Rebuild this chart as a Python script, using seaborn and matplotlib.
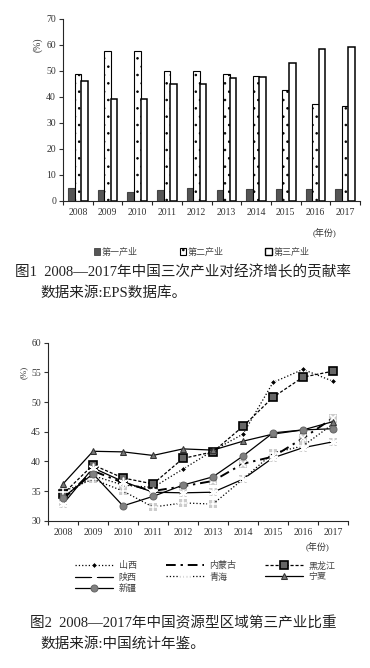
import matplotlib.pyplot as plt
import seaborn as sns
import pandas as pd
from matplotlib.patches import Patch

sns.set_theme(style="ticks")
plt.rcParams['font.family'] = ['Liberation Serif', 'Noto Sans CJK SC']
plt.rcParams['hatch.linewidth'] = 0.6
plt.rcParams['axes.linewidth'] = 0.8

years = [str(y) for y in range(2008, 2018)]

# Fig 1: contribution of the three industries to growth (%)
industries = ['第一产业', '第二产业', '第三产业']
primary = [5.1, 4.1, 3.6, 4.4, 5.1, 4.4, 4.7, 4.7, 4.5, 4.8]
secondary = [48.8, 57.7, 57.7, 50.0, 50.0, 48.8, 48.1, 42.6, 37.5, 36.5]
tertiary = [46.3, 39.1, 39.1, 45.0, 45.0, 47.3, 47.7, 53.1, 58.5, 59.2]

# Fig 2: tertiary industry share in resource-based regions (%)
regions = ['山西', '内蒙古', '黑龙江', '陕西', '青海', '宁夏', '新疆']
shanxi = [34.0, 37.6, 36.0, 35.6, 38.7, 41.8, 44.6, 53.3, 55.5, 53.5]
neimenggu = [33.6, 38.4, 36.4, 35.0, 35.8, 36.7, 39.6, 40.8, 43.9, 47.3]
heilongjiang = [34.5, 39.4, 37.2, 36.2, 40.5, 41.6, 45.9, 50.8, 54.2, 55.2]
shaanxi = [32.8, 38.9, 36.6, 34.8, 34.7, 34.8, 37.0, 40.6, 42.3, 43.3]
qinghai = [34.9, 37.0, 35.0, 32.3, 33.0, 32.8, 37.0, 41.4, 42.6, 46.3]
ningxia = [36.2, 41.7, 41.6, 41.0, 42.1, 41.9, 43.4, 44.6, 45.3, 46.7]
xinjiang = [33.9, 37.9, 32.5, 34.1, 36.0, 37.4, 40.9, 44.8, 45.3, 45.5]
series2 = [shanxi, neimenggu, heilongjiang, shaanxi, qinghai, ningxia, xinjiang]

W, H = 370, 668
fig = plt.figure(figsize=(3.7, 6.68), dpi=100)
fig.patch.set_facecolor('white')

tick_color = '#333333'


def style_axis(ax):
    sns.despine(ax=ax)
    ax.set_xlim(-0.5, 9.5)
    ax.set_xlabel('')
    ax.set_ylabel('')
    ax.tick_params(axis='y', direction='out', length=3, width=0.8,
                   labelsize=7, colors=tick_color, pad=2)
    ax.tick_params(axis='x', which='major', length=0, labelsize=7,
                   colors=tick_color, pad=5)
    ax.set_xticks([i - 0.5 for i in range(11)], minor=True)
    ax.tick_params(axis='x', which='minor', direction='out', length=3, width=0.8)
    ax.set_facecolor('white')


# ---------- figure 1 ----------
ax1 = fig.add_axes([63 / W, 1 - 201 / H, 297 / W, 182 / H])
df1 = pd.DataFrame({
    'year': years * 3,
    'industry': [n for n in industries for _ in years],
    'value': primary + secondary + tertiary,
})
sns.barplot(data=df1, x='year', y='value', hue='industry', hue_order=industries,
            palette=['#555555', 'white', 'white'], saturation=1, width=0.66,
            edgecolor='black', linewidth=0.8, legend=False, ax=ax1)
for bar in ax1.containers[0]:
    bar.set_edgecolor('#444444')
for bar in ax1.containers[1]:
    bar.set_hatch('..')
for bar in ax1.containers[2]:
    bar.set_linewidth(1.1)
style_axis(ax1)
ax1.set_ylim(0, 70)
ax1.set_yticks(range(0, 71, 10))
ax1.set_ylabel('(%)', fontsize=7, color=tick_color, rotation=90)
ax1.yaxis.set_label_coords(-0.068, 0.86)
ax1.text(0.88, -0.18, '(年份)', transform=ax1.transAxes, fontsize=6.5,
         color=tick_color, ha='center', va='center')

bar_handles = [
    Patch(facecolor='#555555', edgecolor='#444444', linewidth=0.6),
    Patch(facecolor='white', edgecolor='black', hatch='..', linewidth=0.8),
    Patch(facecolor='white', edgecolor='black', linewidth=1.0),
]
fig.legend(bar_handles, industries, ncol=3, loc='center',
           bbox_to_anchor=(0.545, 1 - 252 / H), frameon=False, fontsize=6.5,
           handlelength=0.7, handleheight=0.7, handletextpad=0.2,
           columnspacing=4.6, labelcolor='#444444')

fig.text(15 / W, 1 - 272 / H, '图1  2008—2017年中国三次产业对经济增长的贡献率',
         fontsize=10.5, va='center', ha='left', color='#222222')
fig.text(40 / W, 1 - 293 / H, '数据来源:EPS数据库。',
         fontsize=10.5, va='center', ha='left', color='#222222')

# ---------- figure 2 ----------
ax2 = fig.add_axes([48 / W, 1 - 520.7 / H, 300 / W, 178 / H])

line_styles = {
    '山西': dict(linestyle=':', marker='D', markersize=3.2, color='black',
               markerfacecolor='black', bg=False),
    '内蒙古': dict(linestyle=(0, (5, 2.5, 1.2, 2.5)), marker='x', markersize=5,
                markeredgewidth=1.2, color='black', linewidth=1.4, bg=True),
    '黑龙江': dict(linestyle=(0, (2.5, 1.5)), marker='s', markersize=6,
                markerfacecolor='#666666', markeredgecolor='black',
                markeredgewidth=1.2, color='black', bg=False),
    '陕西': dict(linestyle='-', marker=(6, 2, 0), markersize=7,
               markeredgewidth=1.1, color='black', bg=True),
    '青海': dict(linestyle=':', marker='+', markersize=8, markeredgewidth=1.2,
               color='black', bg=True),
    '宁夏': dict(linestyle='-', marker='^', markersize=5,
               markerfacecolor='#777777', markeredgecolor='#333333',
               color='black', bg=False),
    '新疆': dict(linestyle='-', marker='o', markersize=5,
               markerfacecolor='#808080', markeredgecolor='#666666',
               color='black', bg=False),
}

for name, vals in zip(regions, series2):
    st = dict(line_styles[name])
    bg = st.pop('bg')
    st.setdefault('linewidth', 0.9)
    if bg:
        sns.scatterplot(x=years, y=vals, marker='s', s=36, color='#cccccc',
                        linewidth=0, legend=False, ax=ax2)
    sns.lineplot(x=years, y=vals, label=name, ax=ax2, **st)

# keep grey marker backgrounds underneath the lines
for coll in ax2.collections:
    coll.set_zorder(1.5)
for line in ax2.lines:
    line.set_zorder(3)

style_axis(ax2)
ax2.set_ylim(30, 60)
ax2.set_yticks(range(30, 61, 5))
ax2.set_ylabel('(%)', fontsize=6.5, color=tick_color, rotation=90)
ax2.yaxis.set_label_coords(-0.068, 0.835)
ax2.text(0.9, -0.15, '(年份)', transform=ax2.transAxes, fontsize=6.5,
         color=tick_color, ha='center', va='center')

handles, labels = ax2.get_legend_handles_labels()
ax2.get_legend().remove()
order = ['山西', '陕西', '新疆', '内蒙古', '青海', '黑龙江', '宁夏']
hmap = dict(zip(labels, handles))
fig.legend([hmap[n] for n in order], order, ncol=3, loc='center',
           bbox_to_anchor=(0.555, 1 - 577 / H), frameon=False, fontsize=6.5,
           handlelength=4.2, handletextpad=0.6, columnspacing=3.2,
           labelspacing=0.25, labelcolor='#444444')

fig.text(30 / W, 1 - 623 / H, '图2  2008—2017年中国资源型区域第三产业比重',
         fontsize=10.5, va='center', ha='left', color='#222222')
fig.text(40 / W, 1 - 644 / H, '数据来源:中国统计年鉴。',
         fontsize=10.5, va='center', ha='left', color='#222222')

fig.savefig('out.png', dpi=100)
